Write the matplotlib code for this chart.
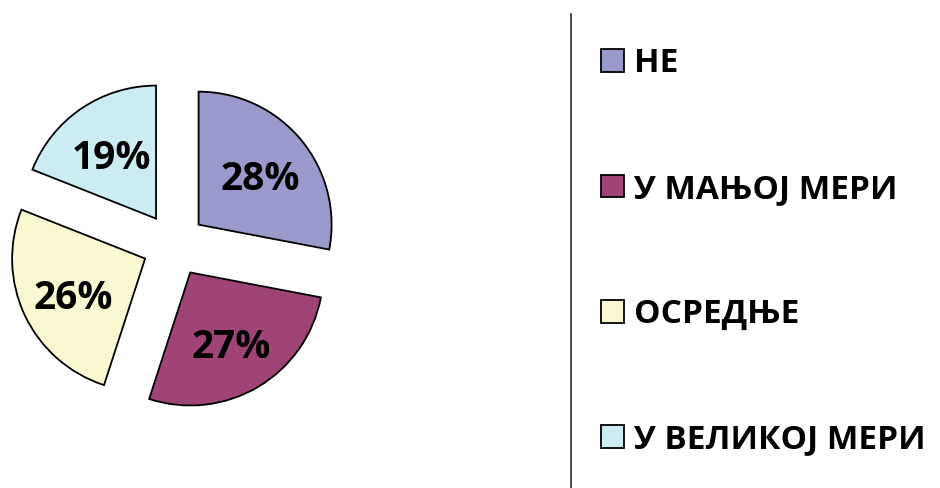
import matplotlib.pyplot as plt
from matplotlib.lines import Line2D
from matplotlib.transforms import ScaledTranslation

plt.rcParams["font.family"] = ["Open Sans", "DejaVu Sans"]

categories = ["НЕ", "У МАЊОЈ МЕРИ", "ОСРЕДЊЕ", "У ВЕЛИКОЈ МЕРИ"]
shares = [28, 27, 26, 19]
colors = ["#9999CC", "#A04377", "#FAF8D0", "#CCECF4"]

W, H = 940, 488
fig = plt.figure(figsize=(W / 100, H / 100), dpi=100)

# pie axes: center at (173, 242) px from bottom-left, 133 px per unit radius
lim = 1.3
side = 2 * lim * 133
cx, cy = 174, 243
ax = fig.add_axes([(cx - side / 2) / W, (cy - side / 2) / H, side / W, side / H])

wedges, texts, autotexts = ax.pie(
    shares,
    colors=colors,
    startangle=90,
    counterclock=False,
    explode=[0.24] * len(shares),
    autopct="%d%%",
    pctdistance=0.6,
    wedgeprops={"edgecolor": "black", "linewidth": 1.3},
    textprops={"fontsize": 28, "fontweight": "bold", "color": "black"},
)
# labels sit a little lower than the wedge centroids in the original
shift = ScaledTranslation(0, -6 / 100, fig.dpi_scale_trans)
for t in autotexts:
    t.set_transform(ax.transData + shift)

ax.set_xlim(-lim, lim)
ax.set_ylim(-lim, lim)
ax.set_aspect("equal")
ax.axis("off")

fig.legend(
    wedges,
    categories,
    loc="upper left",
    bbox_to_anchor=(588 / W, 1 - 34 / H),
    frameon=False,
    prop={"size": 24, "weight": "bold"},
    handlelength=0.68,
    handleheight=0.68,
    handletextpad=0.3,
    labelspacing=2.77,
    borderaxespad=0,
)

fig.add_artist(Line2D([571 / W, 571 / W], [0, 1 - 14 / H], color="#333333", linewidth=1.2))

fig.savefig("out.png", dpi=100)
